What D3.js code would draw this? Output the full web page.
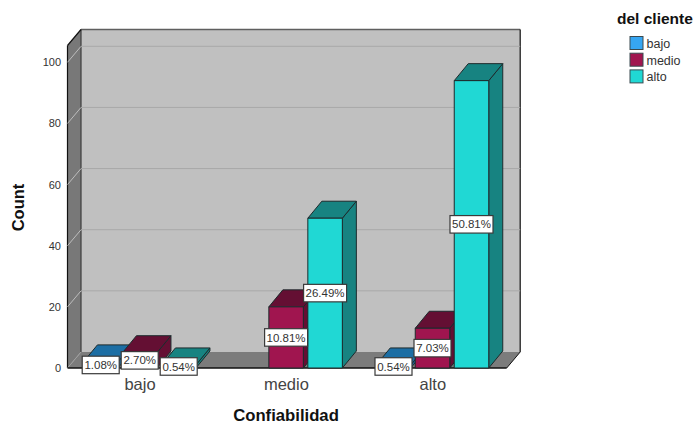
<!DOCTYPE html>
<html>
<head>
<meta charset="utf-8">
<script src="https://cdn.jsdelivr.net/npm/d3@7"></script>
<style>
  html, body { margin: 0; padding: 0; background: #fff; overflow: hidden; }
  svg { display: block; font-family: "Liberation Sans", Arial, sans-serif; }
</style>
</head>
<body>
<svg id="chart" width="694" height="425"></svg>
<script>
// Counts of Confiabilidad, split by the client's level
const categories = ["bajo", "medio", "alto"];
const seriesNames = ["bajo", "medio", "alto"];
const bajoCounts = [2, 0, 1];
const medioCounts = [5, 20, 13];
const altoCounts = [1, 49, 94];
const bajoLabels = ["1.08%", null, "0.54%"];
const medioLabels = ["2.70%", "10.81%", "7.03%"];
const altoLabels = ["0.54%", "26.49%", "50.81%"];
const yTicks = [0, 20, 40, 60, 80, 100];

const frontColors = ["#2f9ce6", "#a0154f", "#20d8d4"];
const shadeColors = ["#1c6ea4", "#640f33", "#178381"];
const legendColors = ["#36a6f2", "#a0154f", "#20d8d4"];

const svg = d3.select("#chart");

const x = d3.scaleBand().domain(categories).range([67.5, 506.7]);
const inner = d3.scaleBand().domain(seriesNames).range([-57.25, 55.25]).paddingInner(0.115);
const y = d3.scaleLinear().domain([0, 105.5]).range([368, 45.5]);

// Offset of the back plane of the 3-D box and of each bar
const wallDx = 13.5, wallDy = -16;
const barDx = 14, barDy = -17;

const x0 = x.range()[0], x1 = x.range()[1];
const yBase = y(0), yTop = y.range()[1];

const poly = (pts, fill, stroke, width) => svg.append("polygon")
  .attr("points", pts.map(p => p.join(",")).join(" "))
  .attr("fill", fill)
  .attr("stroke", stroke || "none")
  .attr("stroke-width", width || 1)
  .attr("stroke-linejoin", "round");

// Box: back wall, left wall, floor
poly([[x0 + wallDx, yTop + wallDy], [x1 + wallDx, yTop + wallDy], [x1 + wallDx, yBase + wallDy], [x0 + wallDx, yBase + wallDy]], "#c0c0c0");
poly([[x0, yTop], [x0 + wallDx, yTop + wallDy], [x0 + wallDx, yBase + wallDy], [x0, yBase]], "#787878");
poly([[x0, yBase], [x0 + wallDx, yBase + wallDy], [x1 + wallDx, yBase + wallDy], [x1, yBase]], "#7c7c7c");

// Edges of the box
const edge = (a, b, c, w) => svg.append("line")
  .attr("x1", a[0]).attr("y1", a[1]).attr("x2", b[0]).attr("y2", b[1])
  .attr("stroke", c).attr("stroke-width", w || 1);
edge([x0 + wallDx, yTop + wallDy], [x1 + wallDx, yTop + wallDy], "#5f5f5f", 1.5);
edge([x0 + wallDx, yTop + wallDy], [x0 + wallDx, yBase + wallDy], "#3c3c3c", 1.2);
edge([x1 + wallDx, yTop + wallDy], [x1 + wallDx, yBase + wallDy], "#111", 1.2);
edge([x0, yTop], [x0, yBase], "#111", 1.2);
edge([x0, yTop], [x0 + wallDx, yTop + wallDy], "#111", 1.2);
edge([x1, yBase], [x1 + wallDx, yBase + wallDy], "#111", 1);

// Grid lines across the back wall and down the left wall
yTicks.filter(t => t > 0).forEach(t => {
  edge([x0 + wallDx, y(t) + wallDy], [x1 + wallDx, y(t) + wallDy], "#a8a8a8", 1);
  edge([x0, y(t)], [x0 + wallDx, y(t) + wallDy], "#bdbdbd", 1);
});
edge([x0 + wallDx, yBase + wallDy], [x0, yBase], "#a0a0a0", 1);
edge([x0, yBase], [x1, yBase], "#111", 1.4);

// Y axis labels
svg.append("g").selectAll("text").data(yTicks).join("text")
  .attr("x", 61).attr("y", d => y(d)).attr("dy", "0.36em")
  .attr("text-anchor", "end").attr("font-size", 11).attr("fill", "#333")
  .text(d => d);

// Category labels
svg.append("g").selectAll("text").data(categories).join("text")
  .attr("x", d => x(d) + x.bandwidth() / 2 - 0.7).attr("y", 389.5)
  .attr("text-anchor", "middle").attr("font-size", 16.5).attr("fill", "#444")
  .text(d => d);

// Bars, back to front from left to right
const seriesValues = [bajoCounts, medioCounts, altoCounts];
const seriesLabels = [bajoLabels, medioLabels, altoLabels];
const outline = "#1c2a2c";

categories.forEach((cat, ci) => {
  const cx = x(cat) + x.bandwidth() / 2;
  seriesNames.forEach((name, si) => {
    const v = seriesValues[si][ci];
    if (!v) return;
    const l = cx + inner(name), r = l + inner.bandwidth();
    const t = y(v), b = y(0);
    poly([[r, b], [r + barDx, b + barDy], [r + barDx, t + barDy], [r, t]], shadeColors[si], outline);
    poly([[l, t], [l + barDx, t + barDy], [r + barDx, t + barDy], [r, t]], shadeColors[si], outline);
    poly([[l, b], [l, t], [r, t], [r, b]], frontColors[si], outline);
  });
});

// Percentage tags centred on each bar's front face
const tagGroup = svg.append("g");
categories.forEach((cat, ci) => {
  const cx = x(cat) + x.bandwidth() / 2;
  seriesNames.forEach((name, si) => {
    const v = seriesValues[si][ci], label = seriesLabels[si][ci];
    if (!v || !label) return;
    const bx = cx + inner(name) + inner.bandwidth() / 2;
    const by = (y(v) + y(0)) / 2;
    const w = label.length > 5 ? 43 : 37, h = 17.5;
    tagGroup.append("rect")
      .attr("x", bx - w / 2).attr("y", by - h / 2).attr("width", w).attr("height", h)
      .attr("fill", "#fff").attr("stroke", "#3a3a3a").attr("stroke-width", 1.2);
    tagGroup.append("text")
      .attr("x", bx).attr("y", by).attr("dy", "0.36em")
      .attr("text-anchor", "middle").attr("font-size", 11.5).attr("fill", "#333")
      .text(label);
  });
});

// Axis titles
svg.append("text").attr("x", 286).attr("y", 421)
  .attr("text-anchor", "middle").attr("font-size", 16.7).attr("font-weight", "bold").attr("fill", "#111")
  .text("Confiabilidad");
svg.append("text").attr("transform", "translate(24,207.5) rotate(-90)")
  .attr("text-anchor", "middle").attr("font-size", 16.5).attr("font-weight", "bold").attr("fill", "#111")
  .text("Count");

// Legend
svg.append("text").attr("x", 617).attr("y", 24)
  .attr("font-size", 15.5).attr("font-weight", "bold").attr("fill", "#111")
  .text("del cliente");
const legend = svg.append("g").selectAll("g").data(seriesNames).join("g")
  .attr("transform", (d, i) => `translate(630,${36.5 + i * 16.7})`);
legend.append("rect").attr("width", 13).attr("height", 13)
  .attr("fill", (d, i) => legendColors[i]).attr("stroke", "#3a4a50").attr("stroke-width", 1);
legend.append("text").attr("x", 16.5).attr("y", 7).attr("dy", "0.36em")
  .attr("font-size", 12.5).attr("fill", "#333").text(d => d);
</script>
</body>
</html>
